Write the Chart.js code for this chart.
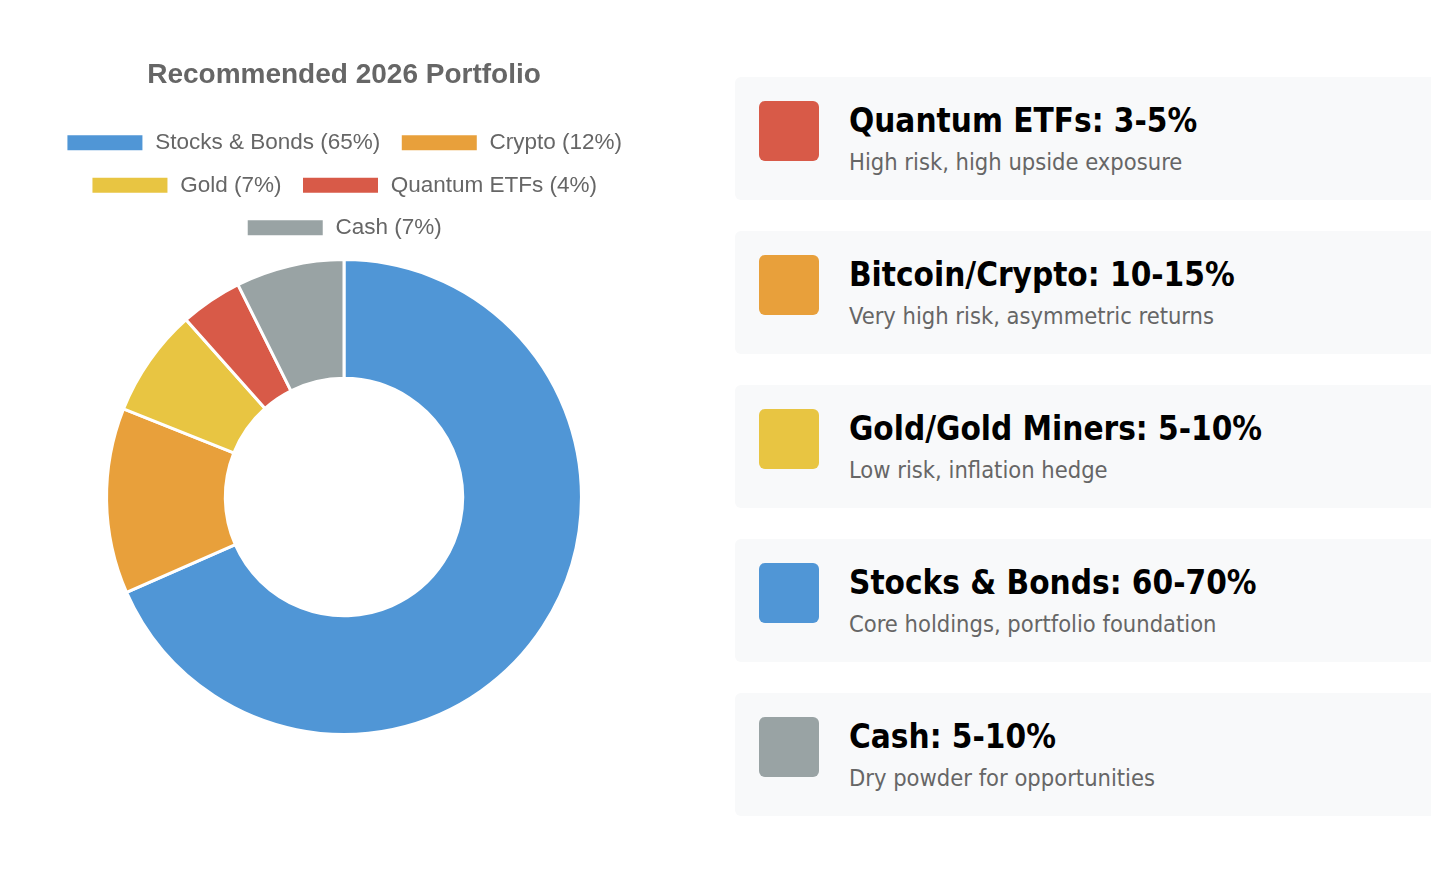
<!DOCTYPE html>
<html>
<head>
<meta charset="utf-8">
<script src="https://cdn.jsdelivr.net/npm/chart.js@4.4.0/dist/chart.umd.min.js"></script>
<style>
  html, body { margin: 0; padding: 0; background: #fff; overflow: hidden; }
  body { width: 1431px; height: 896px; position: relative; }
  .chart-box { position: absolute; left: 0; top: 48px; width: 688px; height: 688px; }
  .cards { position: absolute; left: 735px; top: 77px; width: 760px; }
  .card {
    background: #f8f9fa; border-radius: 6px; height: 123px; margin-bottom: 31px;
    position: relative; font-family: "DejaVu Sans Condensed", "DejaVu Sans", sans-serif;
  }
  .swatch { position: absolute; left: 24px; top: 24px; width: 60px; height: 60px; border-radius: 6px; }
  .card h3 { position: absolute; left: 114px; top: 24px; margin: 0; font-size: 33px; font-weight: bold; color: #000; white-space: nowrap; }
  .card p { position: absolute; left: 114px; top: 71px; margin: 0; font-size: 23.5px; color: #666; white-space: nowrap; }
</style>
</head>
<body>
<div class="chart-box"><canvas id="pie"></canvas></div>
<div class="cards" id="cards"></div>

<script>
const labels = ['Stocks & Bonds (65%)', 'Crypto (12%)', 'Gold (7%)', 'Quantum ETFs (4%)', 'Cash (7%)']
const values = [65, 12, 7, 4, 7]
const colors = ['#5096d6', '#e8a03b', '#e8c542', '#d85a48', '#99a3a4']

const cardTitles = ['Quantum ETFs: 3-5%', 'Bitcoin/Crypto: 10-15%', 'Gold/Gold Miners: 5-10%', 'Stocks & Bonds: 60-70%', 'Cash: 5-10%']
const cardNotes = ['High risk, high upside exposure', 'Very high risk, asymmetric returns', 'Low risk, inflation hedge', 'Core holdings, portfolio foundation', 'Dry powder for opportunities']
const cardColors = ['#d85a48', '#e8a03b', '#e8c542', '#5096d6', '#99a3a4']

const cardsEl = document.getElementById('cards')
cardTitles.forEach((t, i) => {
    const d = document.createElement('div')
    d.className = 'card'
    d.innerHTML = '<div class="swatch" style="background:' + cardColors[i] + '"></div>' +
        '<h3></h3><p></p>'
    d.querySelector('h3').textContent = t
    d.querySelector('p').textContent = cardNotes[i]
    cardsEl.appendChild(d)
})

Chart.defaults.font.family = '"Liberation Sans", Arial, Helvetica, sans-serif'
Chart.defaults.color = '#666'

// a bit of extra room under the legend
const legendGap = {
    id: 'legendGap',
    beforeInit(chart) {
        const fit = chart.legend.fit
        chart.legend.fit = function () {
            fit.bind(chart.legend)()
            this.height += 9
        }
    }
}

new Chart(document.getElementById('pie'), {
    type: 'doughnut',
    data: {
        labels: labels,
        datasets: [{
            data: values,
            backgroundColor: colors,
            borderColor: '#fff',
            borderWidth: 3
        }]
    },
    options: {
        responsive: true,
        maintainAspectRatio: false,
        animation: false,
        cutout: '50%',
        plugins: {
            title: {
                display: true,
                text: 'Recommended 2026 Portfolio',
                font: {size: 28, weight: 'bold'},
                color: '#666',
                padding: {top: 10, bottom: 20}
            },
            legend: {
                position: 'top',
                labels: {boxWidth: 78, boxHeight: 18, font: {size: 22.5}, padding: 20, color: '#666'}
            },
            tooltip: {enabled: false}
        }
    },
    plugins: [legendGap]
})
</script>
</body>
</html>
